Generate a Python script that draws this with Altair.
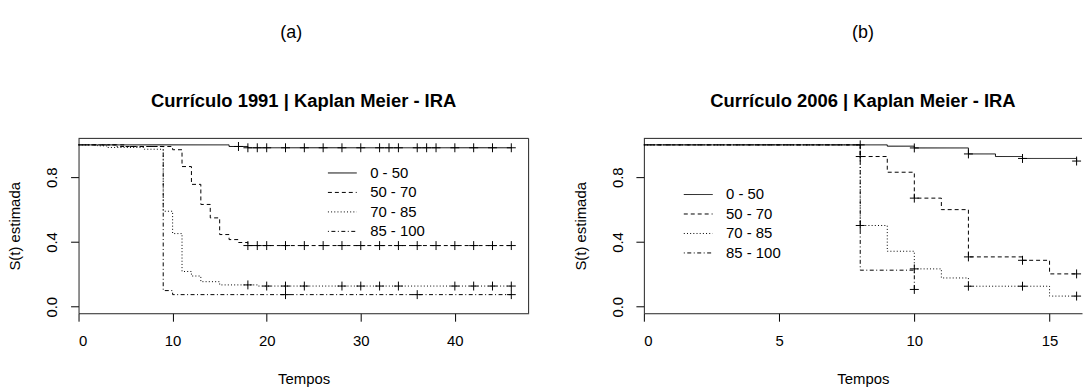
import altair as alt
import pandas as pd

GROUPS = ["0 - 50", "50 - 70", "70 - 85", "85 - 100"]
DASHES = [[1, 0], [4, 3], [1, 2.2], [1, 2.5, 4, 2.5]]
PLUS = "M-1,0H1M0,-1V1"
FONT = "Liberation Sans"
NB = "\u00a0"
ZW = "\u200b"
BORDER = "#222"

# ---------------- (a) Currículo 1991 ----------------
a_t_050 = [0, 16, 18]
a_s_050 = [1.0, 0.99, 0.982]
a_c_050 = [17, 18, 19, 20, 22, 24, 26, 28, 30, 32, 33, 34, 36, 37, 38, 40, 42, 44, 46]

a_t_5070 = [0, 5, 10, 11, 12, 13, 14, 15, 16, 17, 18]
a_s_5070 = [1.0, 0.99, 0.97, 0.866, 0.756, 0.632, 0.549, 0.446, 0.415, 0.397, 0.378]
a_c_5070 = [18, 19, 20, 22, 24, 26, 28, 30, 32, 34, 36, 38, 40, 42, 44, 46]

a_t_7085 = [0, 2, 3, 7, 9, 10, 11, 12, 13, 15, 19]
a_s_7085 = [1.0, 0.994, 0.984, 0.973, 0.59, 0.452, 0.218, 0.19, 0.155, 0.135, 0.128]
a_c_7085 = [18, 20, 22, 24, 28, 30, 32, 34, 40, 42, 44, 46]

a_t_85100 = [0, 4, 9, 10]
a_s_85100 = [1.0, 0.99, 0.10, 0.075]
a_c_85100 = [22, 36, 46]

a_end = [46, 46, 46, 46]
a_xticks = [0, 10, 20, 30, 40]
a_xmax = 47.84

# ---------------- (b) Currículo 2006 ----------------
b_t_050 = [0, 9, 10, 12, 13, 14, 16]
b_s_050 = [1.0, 0.992, 0.981, 0.944, 0.928, 0.916, 0.90]
b_c_050 = [8, 10, 12, 14, 16]

b_t_5070 = [0, 8, 9, 10, 11, 12, 14, 15]
b_s_5070 = [1.0, 0.928, 0.831, 0.671, 0.60, 0.308, 0.287, 0.203]
b_c_5070 = [8, 10, 12, 14, 16]

b_t_7085 = [0, 8, 9, 10, 11, 12, 15]
b_s_7085 = [1.0, 0.502, 0.343, 0.234, 0.178, 0.127, 0.066]
b_c_7085 = [8, 10, 12, 14, 16]

b_t_85100 = [0, 8, 10]
b_s_85100 = [1.0, 0.226, 0.107]
b_c_85100 = [10]

b_end = [16, 16, 16, 10]
b_xticks = [0, 5, 10, 15]
b_xmax = 16.2   # the original panel is cut at the right edge of the picture

y_ticks = [0.0, 0.2, 0.4, 0.6, 0.8, 1.0]

W_A, W_B, H = 453, 441, 176


def curves(ts, ss, ends):
    rows = []
    for g, t, s, e in zip(GROUPS, ts, ss, ends):
        for ti, si in zip(t, s):
            rows.append({"group": g, "t": ti, "s": si})
        rows.append({"group": g, "t": e, "s": s[-1]})
    return pd.DataFrame(rows)


def censors(ts, ss, cs):
    rows = []
    for g, t, s, c in zip(GROUPS, ts, ss, cs):
        for ci in c:
            sv = [si for ti, si in zip(t, s) if ti <= ci][-1]
            rows.append({"group": g, "t": ci, "s": sv})
    return pd.DataFrame(rows)


def panel(tag, main, ts, ss, cs, ends, xmax, xticks, lx, ly, width, right_border):
    ldf = curves(ts, ss, ends)
    cdf = censors(ts, ss, cs)
    x = alt.X("t:Q", scale=alt.Scale(domain=[0, xmax], nice=False, zero=False),
              axis=alt.Axis(values=xticks, format="d", title="Tempos"))
    y = alt.Y("s:Q", scale=alt.Scale(domain=[-0.04, 1.04], nice=False, zero=False),
              axis=alt.Axis(values=y_ticks, title="S(t) estimada",
                            labelExpr="(datum.value == 0 || datum.value == 0.4 || datum.value == 0.8) ? format(datum.value, '.1f') : ''"))
    dash = alt.StrokeDash(
        "group:N",
        scale=alt.Scale(domain=GROUPS, range=DASHES),
        legend=alt.Legend(orient="none", legendX=lx, legendY=ly, title=None,
                          symbolType="M-7.25,0H7.25", symbolSize=16, symbolStrokeWidth=1,
                          symbolStrokeColor="black", labelFont=FONT, labelFontSize=15,
                          labelColor="black", labelOffset=20.5, rowPadding=3.6, padding=0),
    )
    lines = alt.Chart(ldf).mark_line(interpolate="step-after", color="black", strokeWidth=1).encode(
        x=x, y=y, strokeDash=dash, detail="group:N")
    pts = alt.Chart(cdf).mark_point(shape=PLUS, size=81, filled=False, color="black",
                                    strokeWidth=1, opacity=1).encode(x="t:Q", y="s:Q")
    one = pd.DataFrame({"k": [0]})
    top = alt.Chart(one).mark_rule(color=BORDER, strokeWidth=1).encode(
        x=alt.value(0), x2=alt.value(width), y=alt.value(0))
    layers = [lines, pts, top]
    if right_border:
        layers.append(alt.Chart(one).mark_rule(color=BORDER, strokeWidth=1).encode(
            x=alt.value(width), y=alt.value(0), y2=alt.value(H)))
    return alt.layer(*layers).properties(
        width=width, height=H,
        title=alt.TitleParams(text=tag, subtitle=main, font=FONT, fontSize=18, fontWeight="normal",
                              color="black", subtitleFont=FONT, subtitleFontSize=18.5,
                              subtitleFontWeight="bold", subtitleColor="black",
                              subtitlePadding=50, offset=28, anchor="middle", frame="group"))


pa = panel("(a)" + NB * 5 + ZW, "Currículo 1991 | Kaplan Meier - IRA",
           [a_t_050, a_t_5070, a_t_7085, a_t_85100],
           [a_s_050, a_s_5070, a_s_7085, a_s_85100],
           [a_c_050, a_c_5070, a_c_7085, a_c_85100],
           a_end, a_xmax, a_xticks, 258, 27.3, W_A, True)
pb = panel("(b)", "Currículo 2006 | Kaplan Meier - IRA",
           [b_t_050, b_t_5070, b_t_7085, b_t_85100],
           [b_s_050, b_s_5070, b_s_7085, b_s_85100],
           [b_c_050, b_c_5070, b_c_7085, b_c_85100],
           b_end, b_xmax, b_xticks, 47.2, 49, W_B, False)

chart = alt.hconcat(pa, pb, spacing=44).resolve_scale(
    x="independent", strokeDash="independent").resolve_legend(strokeDash="independent").properties(
    padding={"left": 0, "top": 15, "right": 0, "bottom": 0}, background="white"
).configure_view(stroke="transparent", strokeWidth=0).configure_axis(
    domain=True, domainColor=BORDER, domainWidth=1, grid=False,
    tickColor="black", tickSize=8, tickWidth=1,
    labelFont=FONT, labelFontSize=15, labelColor="black",
    titleFont=FONT, titleFontSize=15, titleFontWeight="normal", titleColor="black"
).configure_axisX(labelPadding=12, titlePadding=24).configure_axisY(
    labelAngle=270, labelAlign="center", labelBaseline="alphabetic", labelPadding=14, titlePadding=22
)

chart.save("out.html", embed_options={"renderer": "svg", "actions": False})
